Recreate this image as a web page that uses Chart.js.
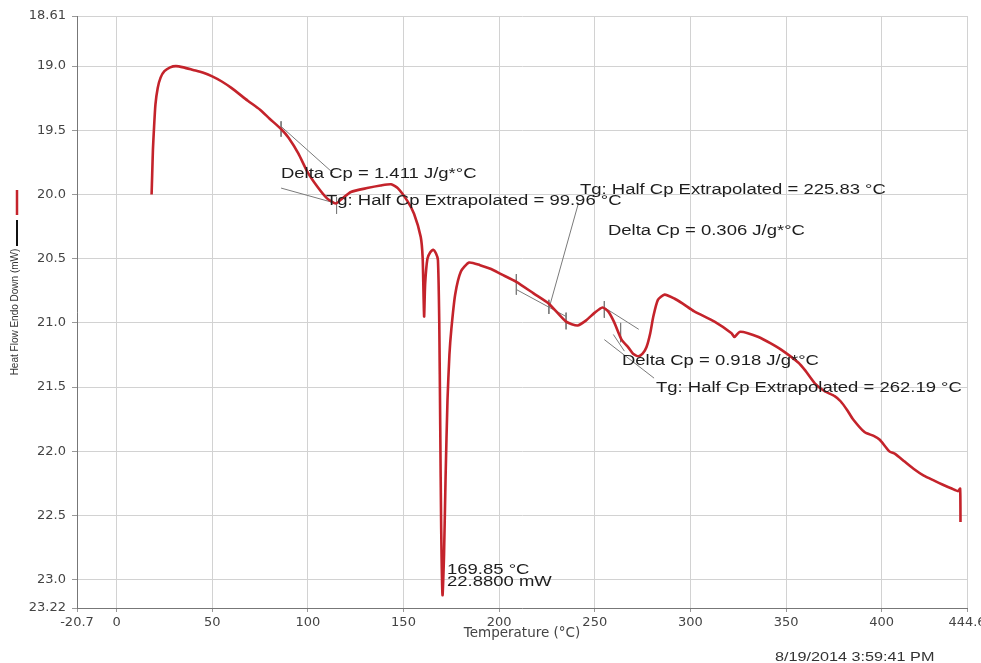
<!DOCTYPE html>
<html>
<head>
<meta charset="utf-8">
<script src="https://cdn.jsdelivr.net/npm/chart.js@4.4.1/dist/chart.umd.min.js"></script>
<style>
  html, body { margin: 0; padding: 0; background: #fff; }
  #wrap { width: 981px; height: 663px; position: relative; }
</style>
</head>
<body>
<div id="wrap"><canvas id="graph"></canvas></div>
<script>
// DSC curve (temperature in °C, heat flow in mW)
const temps = [
  18.3, 18.6, 19.0, 19.5, 20.3, 21.5, 23.0, 25.0, 28.0, 31.0, 35.0, 40.0, 45.0, 50.0,
  55.0, 60.0, 68.6, 75.0, 80.0, 86.0, 90.0, 95.0, 100.0, 105.0, 110.0, 114.6, 118.0,
  122.5, 131.0, 138.0, 143.5, 147.0, 152.0, 155.5, 159.0, 160.0, 160.5, 160.8, 161.3,
  162.5, 164.0, 165.5, 167.0, 168.0, 168.7, 169.2, 169.7, 170.4, 171.2, 172.0, 173.0,
  174.0, 175.0, 177.0, 180.0, 184.3, 190.0, 195.8, 201.0, 209.0, 218.0, 226.0, 235.0,
  241.0, 245.5, 250.0, 254.0, 257.0, 260.0, 264.0, 267.5, 270.0, 272.8, 275.0, 277.0,
  279.0, 280.6, 283.0, 286.5, 291.6, 296.0, 302.0, 312.6, 321.5, 323.0, 325.7, 330.0,
  335.6, 342.0, 347.6, 356.5, 360.0, 365.0, 370.0, 375.4, 378.5, 382.0, 385.0, 391.0,
  395.8, 399.0, 404.0, 407.0, 412.0, 417.0, 422.0, 427.7, 432.0, 436.6, 440.0, 441.0, 441.2
];
const heatFlow = [
  20.00, 19.85, 19.65, 19.50, 19.30, 19.17, 19.09, 19.04, 19.01, 19.00, 19.01, 19.03, 19.05, 19.08,
  19.12, 19.17, 19.27, 19.34, 19.41, 19.49, 19.56, 19.68, 19.83, 19.94, 20.03, 20.07, 20.03,
  19.98, 19.95, 19.93, 19.92, 19.95, 20.05, 20.15, 20.33, 20.49, 20.80, 20.95, 20.70,
  20.50, 20.45, 20.43, 20.46, 20.51, 21.00, 21.80, 22.60, 23.12, 22.80, 22.20, 21.60,
  21.25, 21.05, 20.78, 20.60, 20.53, 20.55, 20.58, 20.62, 20.68, 20.77, 20.85, 20.99,
  21.02, 20.98, 20.92, 20.88, 20.91, 20.99, 21.13, 21.19, 21.24, 21.26, 21.24, 21.19,
  21.08, 20.95, 20.82, 20.78, 20.81, 20.85, 20.91, 20.99, 21.08, 21.11, 21.07, 21.08,
  21.11, 21.16, 21.21, 21.31, 21.37, 21.47, 21.53, 21.57, 21.61, 21.68, 21.75, 21.85,
  21.88, 21.91, 22.00, 22.02, 22.08, 22.14, 22.19, 22.23, 22.26, 22.29, 22.31, 22.29, 22.55
];

// analysis construction lines (tangents, leader, limit marks), [T, mW] pairs
const tangentSegments = [
  [[86, 19.47], [113, 19.83]],
  [[86, 19.95], [115, 20.07]],
  [[86, 19.43], [86, 19.55]],
  [[115, 20.02], [115, 20.15]],
  [[209, 20.74], [235, 20.95]],
  [[255, 20.88], [273, 21.05]],
  [[241.4, 20.07], [226.2, 20.88]],
  [[209, 20.62], [209, 20.78]],
  [[226, 20.82], [226, 20.93]],
  [[235, 20.92], [235, 21.05]],
  [[255, 20.83], [255, 20.96]],
  [[255, 21.13], [281, 21.43]],
  [[259.7, 21.09], [265.5, 21.22]],
  [[263.5, 21.0], [263.5, 21.15]]
];

const xTicks = [-20.7, 0, 50, 100, 150, 200, 250, 300, 350, 400, 444.6];
const xTickLabels = ['-20.7', '0', '50', '100', '150', '200', '250', '300', '350', '400', '444.6'];
const yTicks = [18.61, 19.0, 19.5, 20.0, 20.5, 21.0, 21.5, 22.0, 22.5, 23.0, 23.22];
const yTickLabels = ['18.61', '19.0', '19.5', '20.0', '20.5', '21.0', '21.5', '22.0', '22.5', '23.0', '23.22'];

const notes = [
  ['Delta Cp = 1.411 J/g*°C', 281, 174],
  ['Tg: Half Cp Extrapolated = 99.96 °C', 326, 201],
  ['Tg: Half Cp Extrapolated = 225.83 °C', 580, 190],
  ['Delta Cp = 0.306 J/g*°C', 608, 231],
  ['Delta Cp = 0.918 J/g*°C', 622, 361],
  ['Tg: Half Cp Extrapolated = 262.19 °C', 656, 388],
  ['169.85 °C', 447, 570],
  ['22.8800 mW', 447, 582]
];

const tickFont = 'DejaVu Sans';

const datasets = [{
  data: temps.map((t, i) => ({ x: t, y: heatFlow[i] })),
  borderColor: '#c4232b',
  borderWidth: 2.6,
  pointRadius: 0,
  tension: 0.2,
  order: 0
}];
tangentSegments.forEach(seg => {
  datasets.push({
    data: seg.map(p => ({ x: p[0], y: p[1] })),
    borderColor: '#7a7a7a',
    borderWidth: 1,
    pointRadius: 0,
    tension: 0,
    order: 1
  });
});

// text stretched sideways, like the instrument printout
let wideText = (ctx, txt, x, y, sx) => {
  ctx.save();
  ctx.translate(x, y);
  ctx.scale(sx, 1);
  ctx.fillText(txt, 0, 0);
  ctx.restore();
};

const extras = {
  id: 'extras',
  afterDatasetsDraw(chart) {
    const ctx = chart.ctx;
    const a = chart.chartArea;
    ctx.save();
    ctx.beginPath();
    ctx.rect(0, 0, a.right + 1, chart.height);
    ctx.clip();
    ctx.fillStyle = '#1e1e1e';
    ctx.font = '14px "Liberation Sans", Arial, sans-serif';
    ctx.textBaseline = 'middle';
    ctx.textAlign = 'left';
    notes.forEach(n => wideText(ctx, n[0], n[1], n[2], 1.32));
    ctx.restore();

    // series markers next to the y title
    ctx.save();
    ctx.lineWidth = 2.5;
    ctx.strokeStyle = '#c4232b';
    ctx.beginPath(); ctx.moveTo(17, 190); ctx.lineTo(17, 215); ctx.stroke();
    ctx.lineWidth = 2;
    ctx.strokeStyle = '#111';
    ctx.beginPath(); ctx.moveTo(17, 220); ctx.lineTo(17, 246); ctx.stroke();

    ctx.fillStyle = '#333';
    ctx.font = '12px "Liberation Sans", Arial, sans-serif';
    ctx.textAlign = 'left';
    ctx.textBaseline = 'middle';
    wideText(ctx, '8/19/2014 3:59:41 PM', 775, 658, 1.35);
    ctx.restore();
  }
};

new Chart(document.getElementById('graph').getContext('2d'), {
  type: 'line',
  data: { datasets },
  options: {
    responsive: true,
    maintainAspectRatio: false,
    animation: false,
    layout: { padding: { top: 16, right: 14, left: 0, bottom: 0 } },
    plugins: { legend: { display: false }, tooltip: { enabled: false } },
    scales: {
      x: {
        type: 'linear',
        min: -20.7,
        max: 444.6,
        afterBuildTicks: s => { s.ticks = xTicks.map(v => ({ value: v })); },
        afterFit: s => { s.height = 55; s.paddingLeft = 0; s.paddingRight = 0; },
        grid: { color: '#d2d2d2', tickLength: 4, tickColor: '#999' },
        border: { color: '#777', width: 1 },
        ticks: {
          color: '#444',
          padding: 3,
          maxRotation: 0,
          autoSkip: false,
          font: { size: 13, family: tickFont },
          callback: (v, i) => xTickLabels[i]
        },
        title: {
          display: true,
          text: 'Temperature (°C)',
          color: '#444',
          padding: { top: 0, bottom: 21 },
          font: { size: 13.5, family: tickFont }
        }
      },
      y: {
        type: 'linear',
        reverse: true,
        min: 18.61,
        max: 23.22,
        afterBuildTicks: s => { s.ticks = yTicks.map(v => ({ value: v })); },
        afterFit: s => { s.width = 77; s.paddingTop = 0; s.paddingBottom = 0; },
        grid: { color: '#d2d2d2', tickLength: 5, tickColor: '#999' },
        border: { color: '#777', width: 1 },
        ticks: {
          color: '#444',
          padding: 6,
          autoSkip: false,
          font: { size: 13, family: tickFont },
          callback: (v, i) => yTickLabels[i]
        },
        title: {
          display: true,
          text: 'Heat Flow Endo Down (mW)',
          color: '#333',
          padding: { top: 9, bottom: 0 },
          font: { size: 10, family: '"Liberation Sans", Arial, sans-serif' }
        }
      }
    }
  },
  plugins: [extras]
});
</script>
</body>
</html>
